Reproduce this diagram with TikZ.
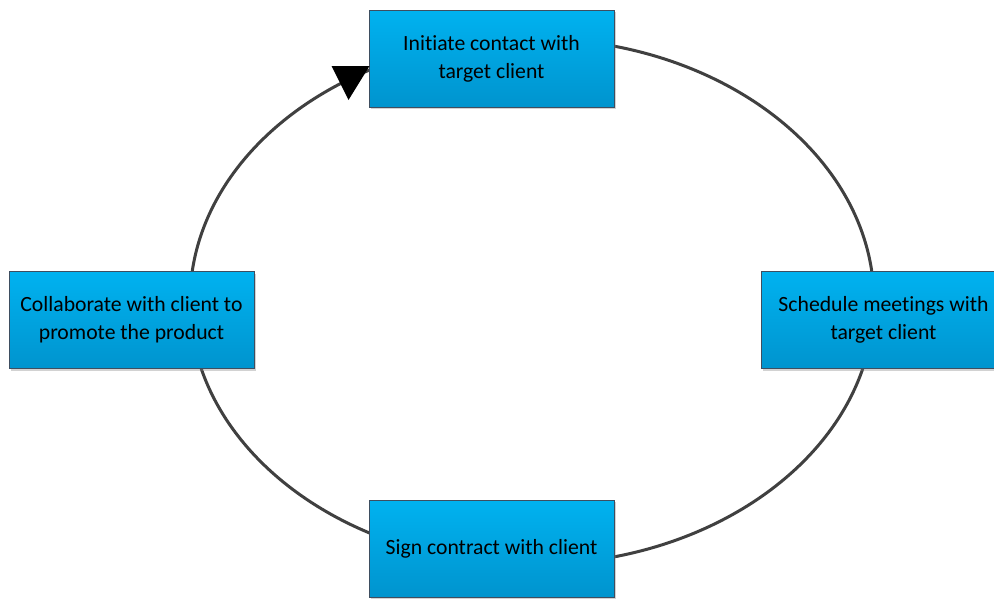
\documentclass[tikz,border=0pt]{standalone}
\usepackage{fontspec}
\setmainfont[Ligatures=NoCommon]{Carlito}
\usepackage{tikz}
\usetikzlibrary{shadows}
\definecolor{StepTop}{RGB}{0,178,240}
\definecolor{StepBottom}{RGB}{0,148,206}
\definecolor{StepEdge}{RGB}{62,78,96}
\definecolor{RingGray}{RGB}{64,64,64}
\tikzset{
  stepbox/.style={draw=StepEdge,line width=1pt,top color=StepTop,bottom color=StepBottom,
    minimum width=245pt,minimum height=97pt,align=center,inner sep=0pt,
    font=\fontsize{21.7}{28}\selectfont,
    drop shadow={shadow xshift=2pt,shadow yshift=-2pt,opacity=0.35,fill=gray}},
}

\begin{document}
\begin{tikzpicture}[x=1pt,y=-1pt]
  \useasboundingbox[fill=white] (0,0) rectangle (994,598);
  \clip (0,0) rectangle (994,598);
  \coordinate (hub) at (532,301.5);
  \draw[RingGray,line width=3pt] (hub) ellipse [x radius=342,y radius=263];
  \node[stepbox] (contact) at (491.5,58.5) {Initiate contact with\\target client};
  \node[stepbox] (meet) at (883.5,320) {Schedule meetings with\\target client};
  \node[stepbox] (sign) at (491.5,548.5) {Sign contract with client};
  \node[stepbox] (promote) at (131.5,320) {Collaborate with client to\\promote the product};
  % arrow head on the ring
  \fill[black] (contact.west) ++(-37,7.5) -- ++(38,0) -- ++(-21,34) -- cycle;
\end{tikzpicture}
\end{document}
